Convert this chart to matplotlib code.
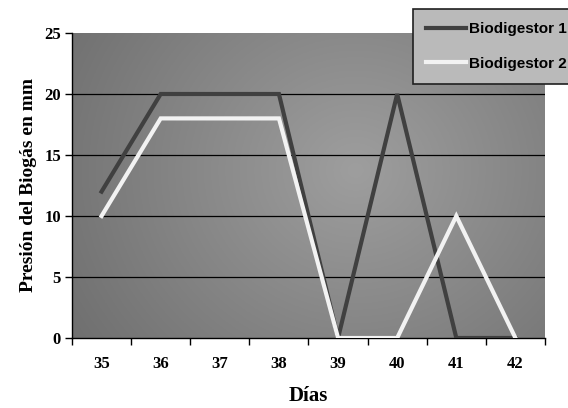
import numpy as np
import matplotlib
matplotlib.use("Agg")
import matplotlib.pyplot as plt

days = ["35", "36", "37", "38", "39", "40", "41", "42"]
biodigestor1 = [12, 20, 20, 20, 0, 20, 0, 0]
biodigestor2 = [10, 18, 18, 18, 0, 0, 10, 0]
series_names = ["Biodigestor 1", "Biodigestor 2"]
yticks = [0, 5, 10, 15, 20, 25]

fig = plt.figure(figsize=(5.68, 4.08), dpi=100)
ax = fig.add_axes([72/568, 1-338/408, (545-72)/568, (338-33)/408])

# gradient background
nx, ny = 300, 200
gx = np.linspace(0, 1, nx)
gy = np.linspace(0, 1, ny)
X, Y = np.meshgrid(gx, gy)
d = np.sqrt(((X - 0.6) / 0.7) ** 2 + ((Y - 0.55) / 1.0) ** 2)
val = 0.62 - 0.18 * np.clip(d, 0, 1)
img = np.dstack([val, val, val])
ax.imshow(img, extent=[0, 1, 0, 1], transform=ax.transAxes, aspect="auto",
          zorder=0, origin="lower")

x = np.arange(len(days))
ax.set_xlim(-0.5, len(days) - 0.5)
ax.set_ylim(0, 25)

for yv in yticks[1:-1]:
    ax.axhline(yv, color="black", lw=0.9, zorder=1)

ax.plot(x, biodigestor1, color="#404040", lw=3.0, zorder=3, label=series_names[0],
        solid_joinstyle="miter")
ax.plot(x, biodigestor2, color="#f2f2f2", lw=3.0, zorder=3, label=series_names[1],
        solid_joinstyle="miter")

for s in ["top", "right"]:
    ax.spines[s].set_visible(False)
ax.spines["left"].set_linewidth(1.0)
ax.spines["bottom"].set_linewidth(1.0)

serif = "Liberation Serif"
ax.set_yticks(yticks)
ax.set_yticklabels([str(v) for v in yticks], fontfamily=serif, fontweight="bold", fontsize=12)
ax.set_xticks(np.arange(-0.5, len(days), 1.0))
ax.set_xticklabels([""] * (len(days) + 1))
ax.set_xticks(x, minor=True)
ax.set_xticklabels(days, minor=True, fontfamily=serif, fontweight="bold", fontsize=12)
ax.tick_params(axis="x", which="minor", length=0, pad=13)
ax.tick_params(axis="x", which="major", length=5, width=1, direction="out")
ax.tick_params(axis="y", length=5, width=1, direction="out", pad=3)

ax.set_ylabel("Presión del Biogás en mm", fontfamily=serif, fontweight="bold", fontsize=14, labelpad=5)
ax.set_xlabel("Días", fontfamily=serif, fontweight="bold", fontsize=15, labelpad=10)

leg = fig.legend(loc="upper left", bbox_to_anchor=(413/568, 1 - 9/408),
                 prop={"family": "Liberation Sans", "weight": "bold", "size": 11},
                 handlelength=2.6, labelspacing=1.35, borderpad=0.85, handletextpad=0.2,
                 borderaxespad=0,
                 fancybox=False, framealpha=1, facecolor="#bababa", edgecolor="#202020")
leg.get_frame().set_linewidth(1.2)
for h in leg.get_lines():
    h.set_linewidth(3.0)

fig.savefig("out.png", dpi=100)
